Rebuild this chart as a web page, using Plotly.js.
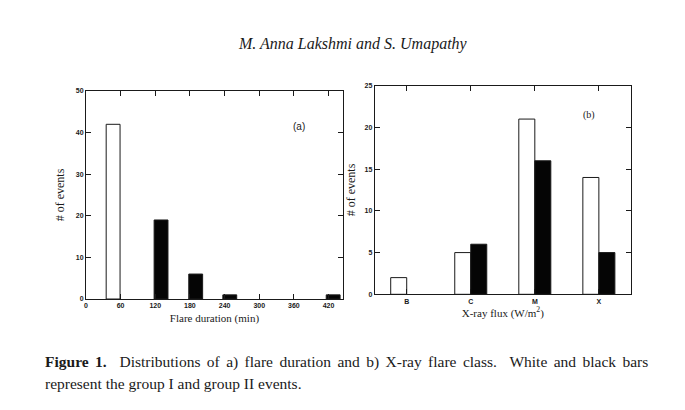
<!DOCTYPE html>
<html>
<head>
<meta charset="utf-8">
<script src="https://cdn.plot.ly/plotly-3.0.1.min.js"></script>
<style>
  html, body { margin: 0; padding: 0; background: #fff; }
  #chart { width: 685px; height: 410px; }
</style>
</head>
<body>
<div id="chart"></div>
<script>
// (a) flare duration, bar centres (min)
const durationBins = [47, 130, 190, 249, 428];
const durGroupI = [42, null, null, null, null];
const durGroupII = [null, 19, 6, 1, 1];
const durTicks = [0, 60, 120, 180, 240, 300, 360, 420];

// (b) X-ray class
const xrayClasses = ['B', 'C', 'M', 'X'];
const xrayGroupI = [2, 5, 21, 14];
const xrayGroupII = [0, 6, 16, 5];

const serif = 'Liberation Serif, Times New Roman, serif';
const sans = 'Liberation Sans, Arial, sans-serif';
const ink = '#1a1a1a';

const baseAxis = {
  showline: true,
  linecolor: ink,
  linewidth: 1,
  mirror: 'allticks',
  ticks: 'inside',
  ticklen: 5,
  tickcolor: ink,
  showgrid: false,
  zeroline: false,
  tickfont: { family: sans, size: 7, color: ink, weight: 'bold' },
  fixedrange: true
};

const titleFont = { family: serif, size: 11, color: ink };
const yTitleFont = { family: serif, size: 12, color: ink };

const traces = [
  {
    type: 'bar', x: durationBins, y: durGroupI, xaxis: 'x', yaxis: 'y',
    width: 24, marker: { color: '#fff', line: { color: ink, width: 1 } }
  },
  {
    type: 'bar', x: durationBins, y: durGroupII, xaxis: 'x', yaxis: 'y',
    width: 24, marker: { color: '#050505', line: { color: ink, width: 1 } }
  },
  {
    type: 'bar', x: xrayClasses, y: xrayGroupI, xaxis: 'x2', yaxis: 'y2',
    width: 0.25, offset: -0.25, marker: { color: '#fff', line: { color: ink, width: 1 } }
  },
  {
    type: 'bar', x: xrayClasses, y: xrayGroupII, xaxis: 'x2', yaxis: 'y2',
    width: 0.25, offset: 0,
    marker: { color: '#050505', line: { color: ink, width: xrayGroupII.map(v => (v ? 1 : 0)) } }
  }
];

const layout = {
  width: 685,
  height: 410,
  margin: { l: 0, r: 0, t: 0, b: 0 },
  paper_bgcolor: '#fff',
  plot_bgcolor: '#fff',
  showlegend: false,
  barmode: 'overlay',
  xaxis: Object.assign({}, baseAxis, {
    domain: [0.1255, 0.5007], range: [0, 445],
    tickvals: durTicks,
    title: { text: 'Flare duration (min)', font: titleFont, standoff: 5 }
  }),
  yaxis: Object.assign({}, baseAxis, {
    domain: [0.2707, 0.778], range: [0, 50], dtick: 10, anchor: 'x',
    title: { text: '# of events', font: yTitleFont, standoff: 8 }
  }),
  xaxis2: Object.assign({}, baseAxis, {
    domain: [0.547, 0.921], range: [-0.5, 3.5], anchor: 'y2',
    type: 'category',
    title: { text: 'X-ray flux (W/m<sup>2</sup>)', font: titleFont, standoff: 5 }
  }),
  yaxis2: Object.assign({}, baseAxis, {
    domain: [0.2822, 0.791], range: [0, 25], dtick: 5, anchor: 'x2',
    title: { text: '# of events', font: yTitleFont, standoff: 6 }
  }),
  annotations: [
    { xref: 'paper', yref: 'paper', x: 353 / 685, y: 1 - 44 / 410, yanchor: 'middle', showarrow: false,
      text: '<i>M. Anna Lakshmi and S. Umapathy</i>',
      font: { family: serif, size: 16, color: ink } },
    { xref: 'x', yref: 'y', x: 368, y: 41.5, showarrow: false, text: '(a)',
      font: { family: sans, size: 10, color: ink } },
    { xref: 'x2', yref: 'y2', x: 2.85, y: 21.5, showarrow: false, text: '(b)',
      font: { family: serif, size: 10, color: ink } },
    { xref: 'paper', yref: 'paper', x: 43 / 685, y: 1 - 362 / 410, xanchor: 'left', yanchor: 'middle',
      showarrow: false, align: 'left',
      text: '<b>Figure 1.</b>  Distributions of a) flare duration and b) X-ray flare class.  White and black bars',
      font: { family: serif, size: 15.5, color: ink } },
    { xref: 'paper', yref: 'paper', x: 43 / 685, y: 1 - 383 / 410, xanchor: 'left', yanchor: 'middle',
      showarrow: false, align: 'left',
      text: 'represent the group I and group II events.',
      font: { family: serif, size: 15.5, color: ink } }
  ]
};

Plotly.newPlot('chart', traces, layout, { staticPlot: true, displayModeBar: false }).then(() => {
  // justify the first caption line like the printed figure
  document.querySelectorAll('.annotation-text').forEach((t) => {
    if (!t.textContent.startsWith('Figure 1.')) return;
    const target = 647 - 43;
    const gaps = (t.textContent.match(/ +/g) || []).length;
    const w = t.getBBox().width;
    if (w < target && gaps) t.style.wordSpacing = ((target - w) / gaps).toFixed(2) + 'px';
    // correct any overshoot once the spacing is applied
    const w2 = t.getBBox().width;
    if (gaps && Math.abs(w2 - target) > 1) {
      const cur = parseFloat(t.style.wordSpacing) || 0;
      t.style.wordSpacing = (cur + (target - w2) / gaps).toFixed(2) + 'px';
    }
  });
});
</script>
</body>
</html>
